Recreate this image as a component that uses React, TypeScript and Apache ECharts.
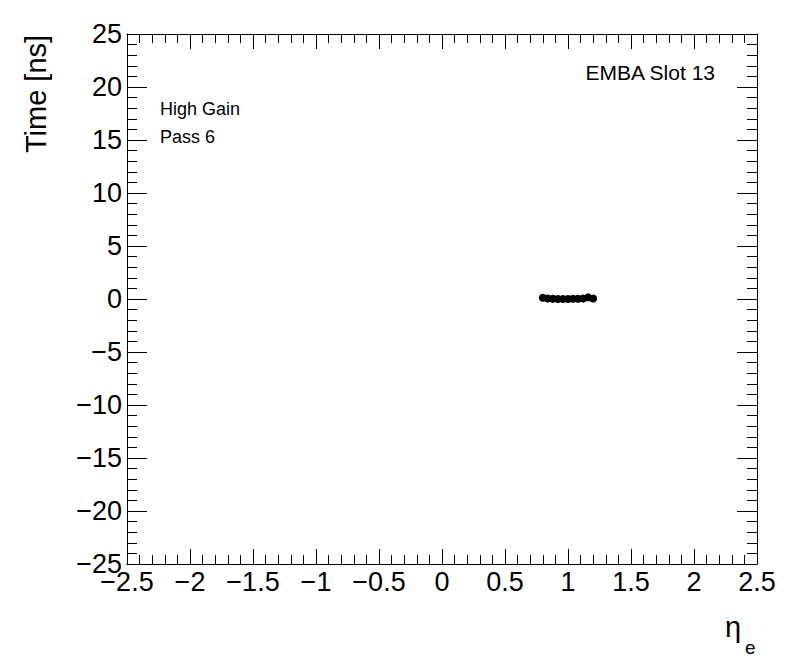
import React, { useEffect, useRef } from "react";
import * as echarts from "echarts";

const etaValues = [0.8, 0.84, 0.88, 0.92, 0.96, 1.0, 1.04, 1.08, 1.12, 1.16, 1.2];
const timeValues = [0.12, 0.05, 0.02, 0.0, 0.0, 0.0, 0.02, 0.03, 0.05, 0.15, 0.05];
const xRange = [-2.5, 2.5];
const yRange = [-25, 25];
const labels = { title: "EMBA Slot 13", gain: "High Gain", pass: "Pass 6", yName: "Time [ns]" };

const FONT = "Liberation Sans, Arial, Helvetica, sans-serif";
const fmt = (v: number) => String(v).replace("-", "\u2212");

export default function App() {
  const ref = useRef<HTMLDivElement>(null);
  useEffect(() => {
    document.body.style.margin = "0";
    const chart = echarts.init(ref.current!, null, { renderer: "svg" });
    const grid = { left: 127, right: 39, top: 34, bottom: 108 };
    const baseX = (pos: "bottom" | "top", labelsOn: boolean) => ({
      type: "value" as const,
      position: pos,
      min: xRange[0],
      max: xRange[1],
      interval: 0.5,
      axisLine: { show: true, onZero: false, lineStyle: { color: "#000", width: 1 } },
      axisTick: { show: true, inside: true, length: 15, lineStyle: { color: "#000" } },
      minorTick: { show: true, splitNumber: 5, length: 9, lineStyle: { color: "#000" } },
      splitLine: { show: false },
      axisLabel: {
        show: labelsOn,
        formatter: fmt,
        color: "#000",
        fontSize: 27,
        fontFamily: FONT,
        margin: 4,
        showMinLabel: true,
        showMaxLabel: true,
      },
    });
    const baseY = (pos: "left" | "right", labelsOn: boolean) => ({
      type: "value" as const,
      position: pos,
      min: yRange[0],
      max: yRange[1],
      interval: 5,
      axisLine: { show: true, onZero: false, lineStyle: { color: "#000", width: 1 } },
      axisTick: { show: true, inside: true, length: 20, lineStyle: { color: "#000" } },
      minorTick: { show: true, splitNumber: 5, length: 10, lineStyle: { color: "#000" } },
      splitLine: { show: false },
      axisLabel: {
        show: labelsOn,
        formatter: fmt,
        color: "#000",
        fontSize: 27,
        fontFamily: FONT,
        margin: 5,
        showMinLabel: true,
        showMaxLabel: true,
      },
    });
    chart.setOption({
      animation: false,
      backgroundColor: "#fff",
      grid,
      xAxis: [baseX("bottom", true), baseX("top", false)],
      yAxis: [baseY("left", true), baseY("right", false)],
      series: [
        {
          type: "scatter",
          xAxisIndex: 0,
          yAxisIndex: 0,
          symbol: "circle",
          symbolSize: 8,
          itemStyle: { color: "#000", opacity: 1 },
          data: etaValues.map((e, i) => [e, timeValues[i]]),
        },
      ],
      graphic: [
        {
          type: "text",
          x: 715,
          y: 72,
          style: { text: labels.title, font: `21px ${FONT}`, fill: "#000", align: "right", verticalAlign: "middle" },
        },
        {
          type: "text",
          x: 160,
          y: 109,
          style: { text: labels.gain, font: `18px ${FONT}`, fill: "#000", align: "left", verticalAlign: "middle" },
        },
        {
          type: "text",
          x: 160,
          y: 137,
          style: { text: labels.pass, font: `18px ${FONT}`, fill: "#000", align: "left", verticalAlign: "middle" },
        },
        {
          type: "text",
          x: 36,
          y: 94,
          rotation: Math.PI / 2,
          style: { text: labels.yName, font: `29px ${FONT}`, fill: "#000", align: "center", verticalAlign: "middle" },
        },
        {
          type: "text",
          x: 725,
          y: 627,
          style: { text: "\u03b7", font: `29px ${FONT}`, fill: "#000", align: "left", verticalAlign: "middle" },
        },
        {
          type: "text",
          x: 745,
          y: 647,
          style: { text: "e", font: `19px ${FONT}`, fill: "#000", align: "left", verticalAlign: "middle" },
        },
      ],
    });
    return () => chart.dispose();
  }, []);
  return <div ref={ref} style={{ width: 796, height: 672 }} />;
}
